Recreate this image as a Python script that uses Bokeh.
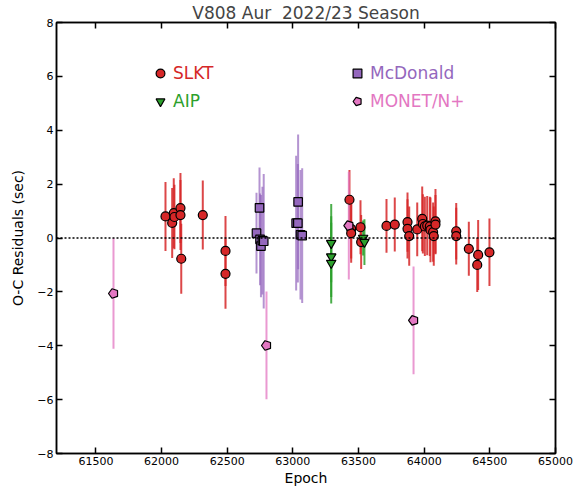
import math
from bokeh.plotting import figure
from bokeh.models import (ColumnDataSource, Span, Legend, LegendItem, LinearAxis,
                          FixedTicker, CustomJSTickFormatter, Range1d, CustomLabelingPolicy)
from bokeh.embed import file_html
from bokeh.resources import INLINE

# ---- data ----
slkt_epoch = [62030, 62081, 62093, 62098, 62144, 62144, 62150, 62314, 62487, 62487,
              63431, 63444, 63444, 63515, 63520, 63713, 63776, 63873, 63873, 63886,
              63947, 63985, 63990, 64005, 64023, 64043, 64048, 64068, 64073, 64086,
              64086, 64244, 64244, 64340, 64411, 64404, 64497]
slkt_oc = [0.80, 0.56, 0.92, 0.78, 1.11, 0.85, -0.77, 0.85, -0.48, -1.33,
           1.42, 0.34, 0.18, 0.40, -0.15, 0.45, 0.50, 0.59, 0.34, 0.07,
           0.32, 0.71, 0.52, 0.43, 0.46, 0.43, 0.30, 0.22, 0.07, 0.62,
           0.50, 0.25, 0.07, -0.40, -0.63, -1.00, -0.53]
slkt_err = [1.28, 1.30, 1.30, 1.20, 1.30, 1.30, 1.30, 1.28, 1.30, 1.30,
            1.10, 1.10, 1.10, 1.00, 1.00, 1.00, 1.00, 1.10, 1.10, 1.10,
            1.00, 1.20, 1.10, 1.10, 1.10, 1.10, 1.20, 1.10, 1.10, 1.20,
            1.10, 1.05, 1.05, 1.00, 1.30, 1.00, 1.25]

mcd_epoch = [62723, 62746, 62750, 62757, 62768, 62778, 63025, 63040, 63038, 63058, 63071]
mcd_oc = [0.18, 1.12, -0.05, -0.30, -0.10, -0.12, 0.55, 1.34, 0.55, 0.12, 0.09]
mcd_err = [1.50, 1.50, 1.70, 1.90, 2.00, 2.50, 2.50, 2.50, 2.20, 2.40, 2.50]

aip_epoch = [63292, 63292, 63292, 63535, 63545]
aip_oc = [-0.19, -0.69, -0.93, 0.00, -0.15]
aip_err = [1.45, 1.50, 1.50, 0.65, 0.85]

monet_epoch = [61634, 62799, 63426, 63919]
monet_oc = [-2.06, -3.99, 0.46, -3.06]
monet_err = [2.05, 2.00, 2.00, 2.00]

x_ticks = [61500, 62000, 62500, 63000, 63500, 64000, 64500, 65000]
y_ticks = [-8, -6, -4, -2, 0, 2, 4, 6, 8]

RED, PURPLE, GREEN, PINK = "#d62728", "#9467bd", "#2ca02c", "#e377c2"
FONT = "DejaVu Sans"

p = figure(width=586, height=488, output_backend="svg", toolbar_location=None,
           x_range=Range1d(61200, 65000), y_range=Range1d(-8, 8),
           min_border_left=56, min_border_right=31, min_border_top=0,
           min_border_bottom=34, background_fill_color="white")
p.title.text = "V808 Aur \u00a02022/23 Season"
p.title.align = "center"
p.title.text_font = FONT
p.title.text_font_size = "17px"
p.title.text_font_style = "normal"
p.title.standoff = 0
p.title.offset = 0
p.grid.visible = False
p.outline_line_color = "black"
p.outline_line_width = 1.5

minus_fmt = CustomJSTickFormatter(code="return tick < 0 ? '\u2212' + (-tick) : '' + tick;")
no_labels = CustomLabelingPolicy(code="return new Set()")

def style_axis(ax, ticks, labels=True):
    ax.ticker = FixedTicker(ticks=ticks)
    ax.major_tick_in = 6
    ax.major_tick_out = 0
    ax.minor_tick_in = 0
    ax.minor_tick_out = 0
    ax.major_tick_line_width = 1.5
    ax.axis_line_width = 1.5
    ax.axis_line_color = "black"
    ax.major_tick_line_color = "black"
    if labels:
        ax.major_label_text_font = FONT
        ax.major_label_text_font_size = "11px"
        ax.major_label_text_color = "black"
        ax.major_label_standoff = 3
    else:
        ax.major_label_policy = no_labels
        ax.major_label_text_font_size = "0px"
        ax.major_label_standoff = 0
        ax.axis_label_standoff = 0

style_axis(p.xaxis[0], x_ticks)
style_axis(p.yaxis[0], y_ticks)
p.yaxis[0].formatter = minus_fmt
p.xaxis.axis_label = "Epoch"
p.yaxis.axis_label = "O-C Residuals (sec)"
for ax in (p.xaxis[0], p.yaxis[0]):
    ax.axis_label_text_font = FONT
    ax.axis_label_text_font_size = "14px"
    ax.axis_label_text_font_style = "normal"
    ax.axis_label_text_color = "black"
p.xaxis[0].axis_label_standoff = 2
p.yaxis[0].axis_label_standoff = 8

top_ax = LinearAxis()
style_axis(top_ax, x_ticks, labels=False)
p.add_layout(top_ax, "above")
right_ax = LinearAxis()
style_axis(right_ax, y_ticks, labels=False)
p.add_layout(right_ax, "right")

p.add_layout(Span(location=0, dimension="width", line_color="black",
                  line_width=1.5, line_dash="2 2"))

def src(ep, oc, er):
    return ColumnDataSource(dict(x=ep, y=oc,
                                 lo=[a - b for a, b in zip(oc, er)],
                                 hi=[a + b for a, b in zip(oc, er)]))

s_slkt = src(slkt_epoch, slkt_oc, slkt_err)
s_mcd = src(mcd_epoch, mcd_oc, mcd_err)
s_aip = src(aip_epoch, aip_oc, aip_err)
s_mon = src(monet_epoch, monet_oc, monet_err)

p.segment(x0="x", y0="lo", x1="x", y1="hi", source=s_slkt, line_color=RED, line_width=2, line_alpha=0.85)
p.segment(x0="x", y0="lo", x1="x", y1="hi", source=s_mcd, line_color=PURPLE, line_width=2, line_alpha=0.7)
p.segment(x0="x", y0="lo", x1="x", y1="hi", source=s_aip, line_color=GREEN, line_width=2, line_alpha=0.85)
p.segment(x0="x", y0="lo", x1="x", y1="hi", source=s_mon, line_color=PINK, line_width=2, line_alpha=0.75)

r_slkt = p.scatter("x", "y", source=s_slkt, marker="circle", size=9, fill_color=RED,
                   line_color="black", line_width=1.2)
r_mcd = p.scatter("x", "y", source=s_mcd, marker="square", size=8.5, fill_color=PURPLE,
                  line_color="black", line_width=1.2)
r_aip = p.scatter("x", "y", source=s_aip, marker="inverted_triangle", size=9.5, fill_color=GREEN,
                  line_color="black", line_width=1.2)
try:
    r_mon = p.ngon("x", "y", source=s_mon, radius=5, radius_units="screen", n=5,
                   angle=math.pi / 2, fill_color=PINK, line_color="black", line_width=1.2)
except Exception:
    r_mon = p.scatter("x", "y", source=s_mon, marker="hex", size=9, fill_color=PINK,
                      line_color="black", line_width=1.2)

def add_leg(label, rend, color, loc):
    leg = Legend(items=[LegendItem(label=label, renderers=[rend])], location=loc,
                 glyph_width=22, glyph_height=22, label_standoff=2, padding=0, margin=0,
                 border_line_color=None, background_fill_alpha=0,
                 label_text_font=FONT, label_text_font_size="17px",
                 label_text_color=color, label_text_baseline="middle")
    p.add_layout(leg, "center")

add_leg("SLKT", r_slkt, RED, (93, 369))
add_leg("AIP", r_aip, GREEN, (93, 341))
add_leg("McDonald", r_mcd, PURPLE, (290, 369))
add_leg("MONET/N+", r_mon, PINK, (290, 341))

open("out.html", "w").write(file_html(p, INLINE))
